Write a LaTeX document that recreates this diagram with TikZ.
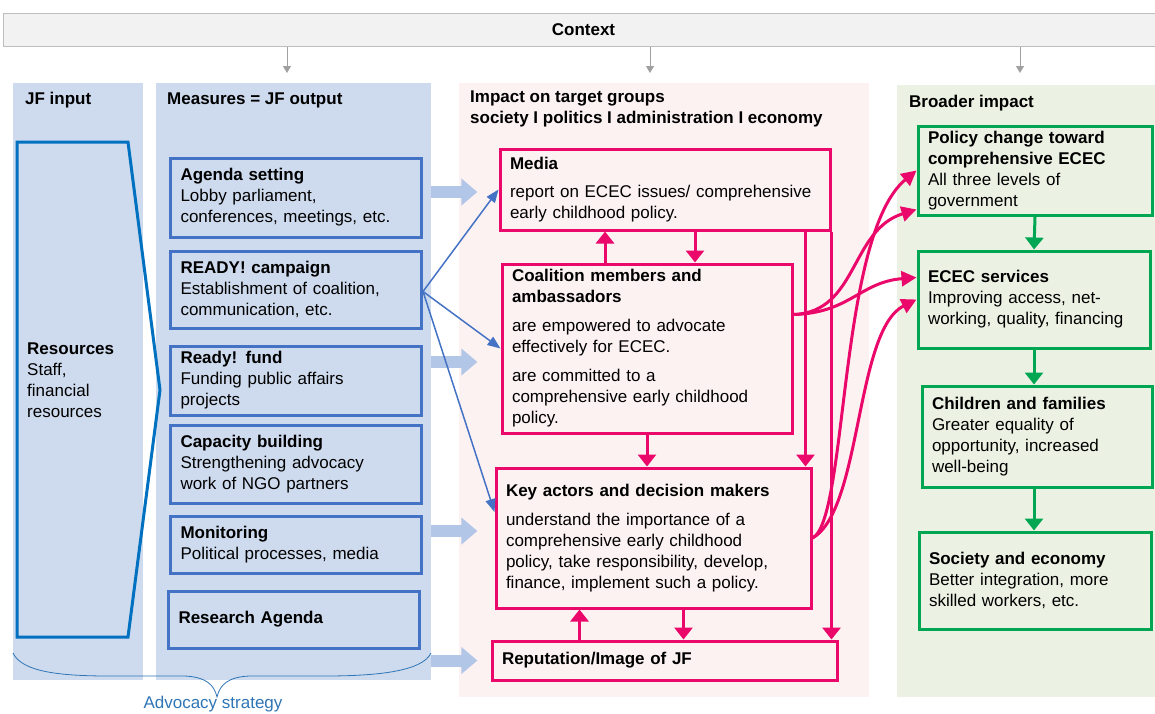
\documentclass[tikz,border=0pt]{standalone}
\usepackage{fontspec}
\setmainfont{Liberation Sans}
\usetikzlibrary{arrows.meta,positioning}

\definecolor{ctxfill}{RGB}{242,242,242}
\definecolor{ctxline}{RGB}{190,190,190}
\definecolor{ctxarrow}{RGB}{160,160,160}
\definecolor{jfblue}{RGB}{206,219,238}
\definecolor{jfline}{RGB}{68,114,196}
\definecolor{resline}{RGB}{0,112,192}
\definecolor{blockblue}{RGB}{178,198,232}
\definecolor{impfill}{RGB}{253,242,242}
\definecolor{impline}{RGB}{234,8,106}
\definecolor{broadfill}{RGB}{235,242,227}
\definecolor{broadline}{RGB}{0,166,81}
\definecolor{advblue}{RGB}{46,117,182}

\begin{document}
\begin{tikzpicture}[x=1pt, y=-1pt,
    every node/.style={font=\fontsize{17}{21}\selectfont},
    column/.style={anchor=north west, inner sep=0pt},
    heading/.style={anchor=west, inner sep=0pt, align=left, font=\fontsize{17}{21}\selectfont\bfseries},
    measbox/.style={draw=jfline, line width=3pt, fill=jfblue, anchor=north west, align=left,
        inner xsep=10pt, inner ysep=2pt, minimum width=251pt, text width=231pt},
    impbox/.style={draw=impline, line width=3pt, fill=impfill, anchor=north west, align=left,
        inner xsep=10pt, inner ysep=2pt},
    broadbox/.style={draw=broadline, line width=3pt, fill=broadfill, anchor=north west, align=left,
        inner xsep=10pt, inner ysep=2pt},
    ctxarr/.style={draw=ctxarrow, line width=1pt, -{Triangle[width=8pt,length=7pt]}},
    blockarr/.style={draw=blockblue, line width=12pt, -{Triangle[width=26pt,length=16pt]}},
    bluearr/.style={draw=jfline, line width=1.5pt, -{Triangle[width=10pt,length=13pt]}},
    pinkarr/.style={draw=impline, line width=3pt, -{Triangle[width=18pt,length=12pt]}},
    pinkcurve/.style={draw=impline, line width=3pt, -{Triangle[width=15pt,length=15pt]}},
    greenarr/.style={draw=broadline, line width=3pt, -{Triangle[width=18pt,length=12pt]}}]

    \useasboundingbox (0,0) rectangle (1155,713);

    % context bar
    \node[draw=ctxline, fill=ctxfill, line width=1pt, minimum width=1160pt, minimum height=33pt,
        anchor=north west, font=\fontsize{17}{21}\selectfont\bfseries] (ctx) at (3,12.5) {Context};

    % columns
    \node[column, fill=jfblue, minimum width=130pt, minimum height=597pt] (jfcol) at (13,83) {};
    \node[column, fill=jfblue, minimum width=275pt, minimum height=597pt] (meas) at (156,83) {};
    \node[column, fill=impfill, minimum width=410pt, minimum height=614pt] (imp) at (459,83) {};
    \node[column, fill=broadfill, minimum width=260pt, minimum height=612pt] (broad) at (897,85) {};

    \draw[ctxarr] (ctx.south -| 287,0) -- (287,73);
    \draw[ctxarr] (ctx.south -| 650,0) -- (650,73);
    \draw[ctxarr] (ctx.south -| 1020,0) -- (1020,73);

    \node[heading] (jfhead) at (25,100) {JF input};
    \node[heading] (meashead) at (167,100) {Measures = JF output};
    \node[heading] (imphead) at (470,109) {Impact on target groups\\society I politics I administration I economy};
    \node[heading] (broadhead) at (909,103) {Broader impact};

    % JF input
    \draw[resline, line width=3pt, line join=miter] (17,142) -- (128,142) -- (160,390) -- (128,637) -- (17,637) -- cycle;
    \node[anchor=west, inner sep=0pt, align=left] (res) at (27,380) {\textbf{Resources}\\Staff,\\financial\\resources};

    % measures
    \node[measbox, minimum height=79pt] (agenda) at (169,156.5)
        {\textbf{Agenda setting}\\Lobby parliament,\\conferences, meetings, etc.};
    \node[measbox, minimum height=77pt] (ready) at (169,249.5)
        {\textbf{READY! campaign}\\Establishment of coalition,\\communication, etc.};
    \node[measbox, minimum height=69pt] (fund) at (169,344.5)
        {\textbf{Ready! fund}\\Funding public affairs\\projects};
    \node[measbox, minimum height=78pt] (capacity) at (169,423.5)
        {\textbf{Capacity building}\\Strengthening advocacy\\work of NGO partners};
    \node[measbox, minimum height=57pt] (monitor) at (169,514.5)
        {\textbf{Monitoring}\\Political processes, media};
    \node[measbox, minimum height=57pt] (research) at (167,589.5)
        {\textbf{Research Agenda}};

    % advocacy brace
    \draw[advblue, line width=0.8pt] (13,653) .. controls (22,672) and (60,676) .. (110,676)
        -- (185,676) .. controls (205,677) and (214,684) .. (217,697)
        .. controls (220,684) and (229,677) .. (249,676) -- (324,676)
        .. controls (374,676) and (422,672) .. (431,653);
    \node[text=advblue, inner sep=0pt] (adv) at (213,704) {Advocacy strategy};

    % impact on target groups
    \node[impbox, minimum width=330pt, minimum height=81pt, text width=310pt] (media) at (498.5,147.5)
        {\textbf{Media}\\[7pt]report on ECEC issues/ comprehensive\\early childhood policy.};
    \node[impbox, minimum width=290pt, minimum height=169pt, text width=270pt] (coal) at (500.5,262.5)
        {\textbf{Coalition members and}\\\textbf{ambassadors}\\[8pt]are empowered to advocate\\effectively for ECEC.\\[8pt]are committed to a\\comprehensive early childhood\\policy.};
    \node[impbox, minimum width=315pt, minimum height=140pt, text width=295pt] (key) at (494.5,466.5)
        {\textbf{Key actors and decision makers}\\[8pt]understand the importance of a\\comprehensive early childhood\\policy, take responsibility, develop,\\finance, implement such a policy.};
    \node[impbox, minimum width=345pt, minimum height=39pt, text width=325pt] (rep) at (490.5,639.5)
        {\textbf{Reputation/Image of JF}};

    % broader impact
    \node[broadbox, minimum width=234pt, minimum height=89pt, text width=214pt] (policy) at (916.5,124.5)
        {\textbf{Policy change toward}\\\textbf{comprehensive ECEC}\\All three levels of\\government};
    \node[broadbox, minimum width=232pt, minimum height=97pt, text width=212pt] (ecec) at (916.5,249.5)
        {\textbf{ECEC services}\\Improving access, net-\\working, quality, financing};
    \node[broadbox, minimum width=230pt, minimum height=101pt, text width=210pt] (children) at (920.5,384.5)
        {\textbf{Children and families}\\Greater equality of\\opportunity, increased\\well-being};
    \node[broadbox, minimum width=232pt, minimum height=97pt, text width=212pt] (society) at (917.5,530.5)
        {\textbf{Society and economy}\\Better integration, more\\skilled workers, etc.};

    % measures to impact
    \draw[blockarr] (meas.east |- 0,192) -- ++(46,0);
    \draw[blockarr] (meas.east |- 0,362) -- ++(46,0);
    \draw[blockarr] (meas.east |- 0,531) -- ++(46,0);
    \draw[blockarr] (meas.east |- rep.west) -- ++(46,0);

    \draw[bluearr] ([yshift=-2pt]ready.east) -- (media.west);
    \draw[bluearr] ([yshift=-2pt]ready.east) -- (coal.west);
    \draw[bluearr] ([yshift=-2pt]ready.east) -- ([yshift=26pt]key.west);

    % links between target groups
    \draw[pinkarr] ([xshift=-42pt]coal.north) -- ([xshift=-42pt]coal.north |- media.south);
    \draw[pinkarr] ([xshift=48pt]coal.north |- media.south) -- ([xshift=48pt]coal.north);
    \draw[pinkarr] (coal.south) -- (coal.south |- key.north);
    \draw[pinkarr] ([xshift=-26pt]media.south east) -- ([xshift=-26pt]media.south east |- key.north);
    \draw[pinkarr] (media.south east) -- (media.south east |- rep.north);
    \draw[pinkarr] ([xshift=-85pt]rep.north) -- ([xshift=-85pt]rep.north |- key.south);
    \draw[pinkarr] ([xshift=19pt]rep.north |- key.south) -- ([xshift=19pt]rep.north);

    % links to broader impact
    \draw[pinkcurve] (key.east) .. controls (848,520) and (838,235) .. (policy.west);
    \draw[pinkcurve] (key.east) .. controls (862,510) and (855,330) .. (ecec.west);
    \draw[pinkcurve] ([yshift=34pt]coal.east) .. controls (858,312) and (850,230) .. ([yshift=-39pt]policy.west);
    \draw[pinkcurve] ([yshift=34pt]coal.east) .. controls (850,313) and (860,282) .. ([yshift=22pt]ecec.west);

    \draw[greenarr] (policy.south) -- (ecec.north);
    \draw[greenarr] (ecec.south) -- (ecec.south |- children.north);
    \draw[greenarr] (ecec.south |- children.south) -- (ecec.south |- society.north);
\end{tikzpicture}
\end{document}
